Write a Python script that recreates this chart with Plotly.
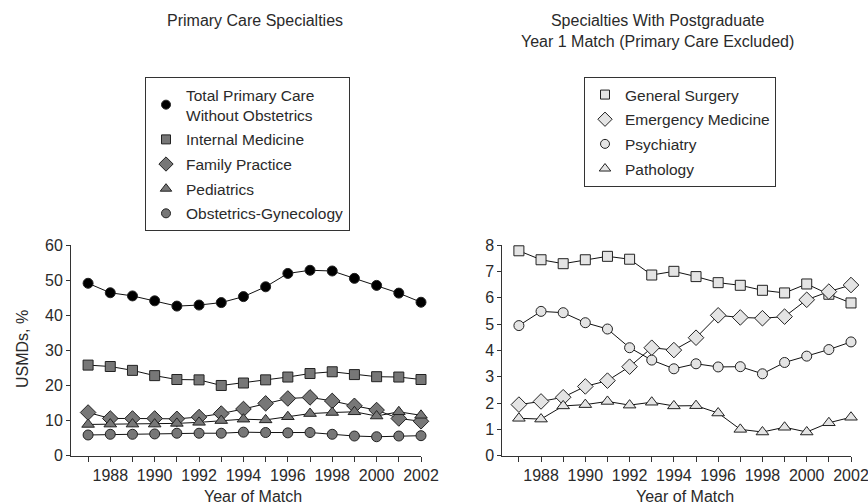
import plotly.graph_objects as go

years = list(range(1987, 2003))
tick_text = [str(y) if y % 2 == 0 else "" for y in years]

# Left panel: Primary care specialties (% of USMDs)
total_primary = [49.1, 46.4, 45.5, 44.1, 42.6, 42.9, 43.6, 45.3, 48.1, 51.9, 52.8, 52.6, 50.5, 48.5, 46.3, 43.7]
internal_med = [25.8, 25.4, 24.3, 22.8, 21.7, 21.6, 20.0, 20.7, 21.6, 22.4, 23.4, 23.9, 23.1, 22.5, 22.4, 21.7]
family_practice = [12.3, 10.6, 10.6, 10.6, 10.5, 11.0, 12.0, 13.3, 14.9, 16.3, 16.6, 15.6, 14.2, 13.0, 10.6, 9.8]
pediatrics = [8.9, 9.0, 9.0, 9.0, 9.2, 9.5, 10.0, 10.4, 10.2, 11.1, 12.0, 12.3, 12.5, 11.3, 12.5, 11.5]
obgyn = [5.9, 6.1, 6.1, 6.2, 6.4, 6.4, 6.4, 6.7, 6.6, 6.5, 6.6, 6.1, 5.6, 5.4, 5.6, 5.7]

# Right panel: specialties with PGY-1 match
general_surgery = [7.78, 7.44, 7.29, 7.44, 7.57, 7.46, 6.86, 7.0, 6.8, 6.57, 6.47, 6.28, 6.18, 6.52, 6.13, 5.80]
emergency_med = [1.94, 2.06, 2.22, 2.63, 2.85, 3.38, 4.10, 4.01, 4.48, 5.33, 5.25, 5.22, 5.28, 5.92, 6.23, 6.48]
psychiatry = [4.94, 5.48, 5.43, 5.05, 4.81, 4.10, 3.63, 3.30, 3.49, 3.37, 3.38, 3.11, 3.54, 3.78, 4.03, 4.32]
pathology = [1.42, 1.39, 1.89, 1.94, 2.06, 1.92, 2.03, 1.89, 1.90, 1.62, 1.0, 0.90, 1.08, 0.90, 1.25, 1.46]

left_series = [
    ("Total Primary Care<br>Without Obstetrics", total_primary, "circle", "#000000", 10),
    ("Internal Medicine", internal_med, "square", "#777777", 10),
    ("Family Practice", family_practice, "diamond", "#777777", 12),
    ("Pediatrics", pediatrics, "triangle-up", "#777777", 11),
    ("Obstetrics-Gynecology", obgyn, "circle", "#777777", 10),
]
right_series = [
    ("General Surgery", general_surgery, "square", "#e4e4e4", 10),
    ("Emergency Medicine", emergency_med, "diamond", "#e4e4e4", 12),
    ("Psychiatry", psychiatry, "circle", "#e4e4e4", 10),
    ("Pathology", pathology, "triangle-up", "#e4e4e4", 11),
]

FONT = "Liberation Sans, Arial, Helvetica, sans-serif"
TXT = "#2a2a2a"
FS = 16

W, H = 868, 504

def px(xs):
    return xs / W

def py(ys):
    return 1 - ys / H

fig = go.Figure()

def add_panel(series, xa, ya, legend, prefix):
    for name, vals, sym, color, size in series:
        fig.add_trace(go.Scatter(
            x=years, y=vals, mode="lines+markers", xaxis=xa, yaxis=ya,
            line=dict(color="#111111", width=1),
            marker=dict(symbol=sym, size=size, color=color, line=dict(color="#222222", width=1)),
            showlegend=False, cliponaxis=False, name=name.replace("<br>", " "),
        ))
    for i, (name, vals, sym, color, size) in enumerate(series):
        fig.add_trace(go.Scatter(
            x=[None], y=[None], mode="markers", xaxis=xa, yaxis=ya,
            marker=dict(symbol=sym, size=size - 1, color=color, line=dict(color="#222222", width=1)),
            name=name, legend=legend, showlegend=True, legendgroup=f"{prefix}{i}",
        ))

add_panel(left_series, "x", "y", "legend", "L")
add_panel(right_series, "x2", "y2", "legend2", "R")

axis_common = dict(
    showgrid=False, zeroline=False, showline=True, linecolor="#333333", linewidth=1,
    ticks="outside", tickcolor="#333333", ticklen=5, tickwidth=1, automargin=False,
    tickfont=dict(family=FONT, size=FS, color=TXT), ticklabeloverflow="allow",
)
xdef = dict(axis_common, tickvals=years, ticktext=tick_text)

ydom = [py(455.7), py(245)]
leg_common = dict(xanchor="left", yanchor="top", bordercolor="#333333", borderwidth=1, bgcolor="white",
                  font=dict(family=FONT, size=15.5, color=TXT), itemclick=False, itemdoubleclick=False,
                  tracegroupgap=1.5, traceorder="grouped")

def note(text, x, y, angle=0):
    return dict(text=text, x=px(x), y=py(y), xref="paper", yref="paper", textangle=angle,
                xanchor="center", yanchor="middle", showarrow=False,
                font=dict(family=FONT, size=FS, color=TXT))

fig.update_layout(
    width=W, height=H,
    margin=dict(l=0, r=0, t=0, b=0, autoexpand=False),
    paper_bgcolor="white", plot_bgcolor="white",
    font=dict(family=FONT, size=FS, color=TXT),
    xaxis=dict(xdef, domain=[px(71), px(421)], range=[1986.23, 2002.0]),
    yaxis=dict(axis_common, domain=ydom, range=[0, 60], dtick=10, ticklen=4),
    xaxis2=dict(xdef, domain=[px(502.3), px(851)], range=[1986.25, 2002.0], anchor="y2"),
    yaxis2=dict(axis_common, domain=ydom, range=[0, 8], dtick=1, ticklen=4, anchor="x2"),
    legend=dict(leg_common, x=px(145), y=py(77)),
    legend2=dict(leg_common, x=px(584), y=py(77)),
    annotations=[
        note("Primary Care Specialties", 255, 21),
        note("Specialties With Postgraduate<br>Year 1 Match (Primary Care Excluded)", 657, 31),
        note("Year of Match", 253, 496),
        note("Year of Match", 685, 496),
        note("USMDs, %", 22, 349, -90),
    ],
)

# the page body has a default 8px margin; remove it so the figure fills the window exactly
fig.write_html("out.html", config={"displayModeBar": False},
               post_script="document.body.style.margin='0';")
